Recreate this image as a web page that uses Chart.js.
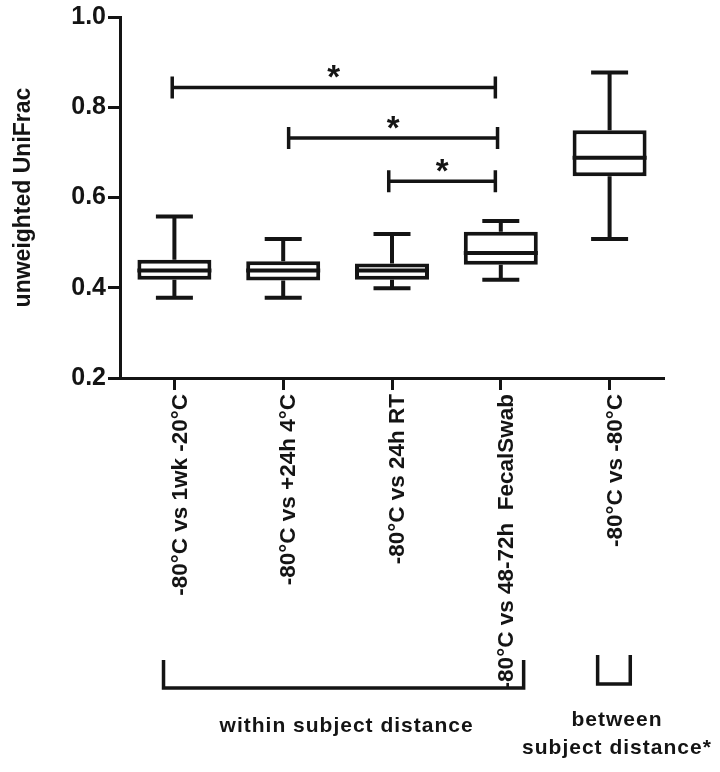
<!DOCTYPE html>
<html><head><meta charset="utf-8">
<script src="https://cdn.jsdelivr.net/npm/chart.js@4.4.1/dist/chart.umd.min.js"></script>
<style>html,body{margin:0;padding:0;background:#fff}#wrap{width:720px;height:772px}</style>
</head><body><div id="wrap"><canvas id="c" width="720" height="772"></canvas></div>
<script>
// ---- data ----
const categories = ['-80°C vs 1wk -20°C', '-80°C vs +24h 4°C', '-80°C vs 24h RT', '-80°C vs 48-72h  FecalSwab', '-80°C vs -80°C'];
const whiskerMin = [0.378, 0.378, 0.399, 0.418, 0.508];
const q1 = [0.418, 0.416, 0.418, 0.451, 0.647];
const median = [0.438, 0.438, 0.438, 0.477, 0.688];
const q3 = [0.462, 0.459, 0.454, 0.524, 0.749];
const whiskerMax = [0.558, 0.508, 0.519, 0.548, 0.877];
const yTickValues = [0.2, 0.4, 0.6, 0.8, 1.0];
const yTitle = 'unweighted UniFrac';
// significance brackets (category positions and level)
const sigFrom = [-0.02, 1.05, 1.97];
const sigTo = [2.95, 2.97, 2.95];
const sigLevel = [0.844, 0.732, 0.636];
const sigLabel = ['*', '*', '*'];
// group brackets under the axis (category positions)
const groupFrom = [-0.1, 3.89];
const groupTo = [3.21, 4.19];
const groupLabels = [['within subject distance'], ['between', 'subject distance*']];

const INK = '#141414';
const FONT = '"Liberation Sans", Arial, Helvetica, sans-serif';

const extras = {
  id: 'extras',
  afterDatasetsDraw(chart) {
    const ctx = chart.ctx;
    const x = chart.scales.x, y = chart.scales.y;
    const meta = chart.getDatasetMeta(0);
    ctx.save();
    ctx.strokeStyle = INK;
    ctx.lineCap = 'butt';
    // whiskers and medians
    ctx.lineWidth = 4;
    meta.data.forEach((bar, i) => {
      const cx = x.getPixelForValue(i);
      const half = bar.width / 2;
      const cap = bar.width / 4;
      const pMed = y.getPixelForValue(median[i]);
      const pQ1 = y.getPixelForValue(q1[i]);
      const pQ3 = y.getPixelForValue(q3[i]);
      const pMin = y.getPixelForValue(whiskerMin[i]);
      const pMax = y.getPixelForValue(whiskerMax[i]);
      ctx.beginPath();
      ctx.moveTo(cx - half, pMed); ctx.lineTo(cx + half, pMed);
      ctx.moveTo(cx, pQ3); ctx.lineTo(cx, pMax);
      ctx.moveTo(cx - cap, pMax); ctx.lineTo(cx + cap, pMax);
      ctx.moveTo(cx, pQ1); ctx.lineTo(cx, pMin);
      ctx.moveTo(cx - cap, pMin); ctx.lineTo(cx + cap, pMin);
      ctx.stroke();
    });
    // significance brackets
    ctx.lineWidth = 3.5;
    ctx.fillStyle = INK;
    ctx.font = 'bold 33px ' + FONT;
    ctx.textAlign = 'center';
    ctx.textBaseline = 'alphabetic';
    sigLevel.forEach((lv, i) => {
      const x0 = x.getPixelForValue(sigFrom[i]);
      const x1 = x.getPixelForValue(sigTo[i]);
      const py = y.getPixelForValue(lv);
      ctx.beginPath();
      ctx.moveTo(x0, py); ctx.lineTo(x1, py);
      ctx.moveTo(x0, py - 11); ctx.lineTo(x0, py + 11);
      ctx.moveTo(x1, py - 11); ctx.lineTo(x1, py + 11);
      ctx.stroke();
      ctx.fillText(sigLabel[i], (x0 + x1) / 2, py + 1);
    });
    // group brackets below the axis
    const tops = [660, 655], bottoms = [688, 684];
    ctx.lineWidth = 3.5;
    groupFrom.forEach((g, i) => {
      const x0 = x.getPixelForValue(g);
      const x1 = x.getPixelForValue(groupTo[i]);
      ctx.beginPath();
      ctx.moveTo(x0, tops[i]); ctx.lineTo(x0, bottoms[i]); ctx.lineTo(x1, bottoms[i]); ctx.lineTo(x1, tops[i]);
      ctx.stroke();
    });
    ctx.font = 'bold 21px ' + FONT;
    if ('letterSpacing' in ctx) ctx.letterSpacing = '1px';
    ctx.textBaseline = 'middle';
    const labelY = [[726], [720, 748]];
    groupLabels.forEach((lines, i) => {
      const cx = (x.getPixelForValue(groupFrom[i]) + x.getPixelForValue(groupTo[i])) / 2 + 3;
      lines.forEach((t, j) => ctx.fillText(t, cx, labelY[i][j]));
    });
    ctx.restore();
  }
};

new Chart(document.getElementById('c'), {
  type: 'bar',
  data: {
    labels: categories,
    datasets: [{
      data: q1.map((v, i) => [v, q3[i]]),
      backgroundColor: '#ffffff',
      borderColor: INK,
      borderWidth: 4,
      borderSkipped: false,
      barPercentage: 0.68,
      categoryPercentage: 1.0
    }]
  },
  options: {
    responsive: false,
    animation: false,
    devicePixelRatio: 1,
    layout: { padding: { left: 0, right: 56, top: 15, bottom: 0 } },
    plugins: { legend: { display: false }, tooltip: { enabled: false } },
    scales: {
      x: {
        offset: true,
        afterFit(s) { s.height = 394; },
        grid: { offset: false, drawOnChartArea: false, drawTicks: true, tickLength: 12, tickWidth: 3, tickColor: INK },
        border: { display: true, color: INK, width: 3 },
        ticks: { autoSkip: false, minRotation: 90, maxRotation: 90, padding: 4, labelOffset: 6, color: INK, font: { family: FONT, size: 22.5, weight: 'bold' } }
      },
      y: {
        min: 0.2, max: 1.0,
        afterFit(s) { s.width = 120; },
        afterBuildTicks(s) { s.ticks = yTickValues.map(v => ({ value: v })); },
        grid: { drawOnChartArea: false, drawTicks: true, tickLength: 12, tickWidth: 3, tickColor: INK },
        border: { display: true, color: INK, width: 3 },
        ticks: { padding: 2, color: INK, font: { family: FONT, size: 25, weight: 'bold' }, callback: v => Number(v).toFixed(1) },
        title: { display: true, text: yTitle, color: INK, padding: { top: 10, bottom: 0 }, font: { family: FONT, size: 23, weight: 'bold' } }
      }
    }
  },
  plugins: [extras]
});
</script>
</body></html>
